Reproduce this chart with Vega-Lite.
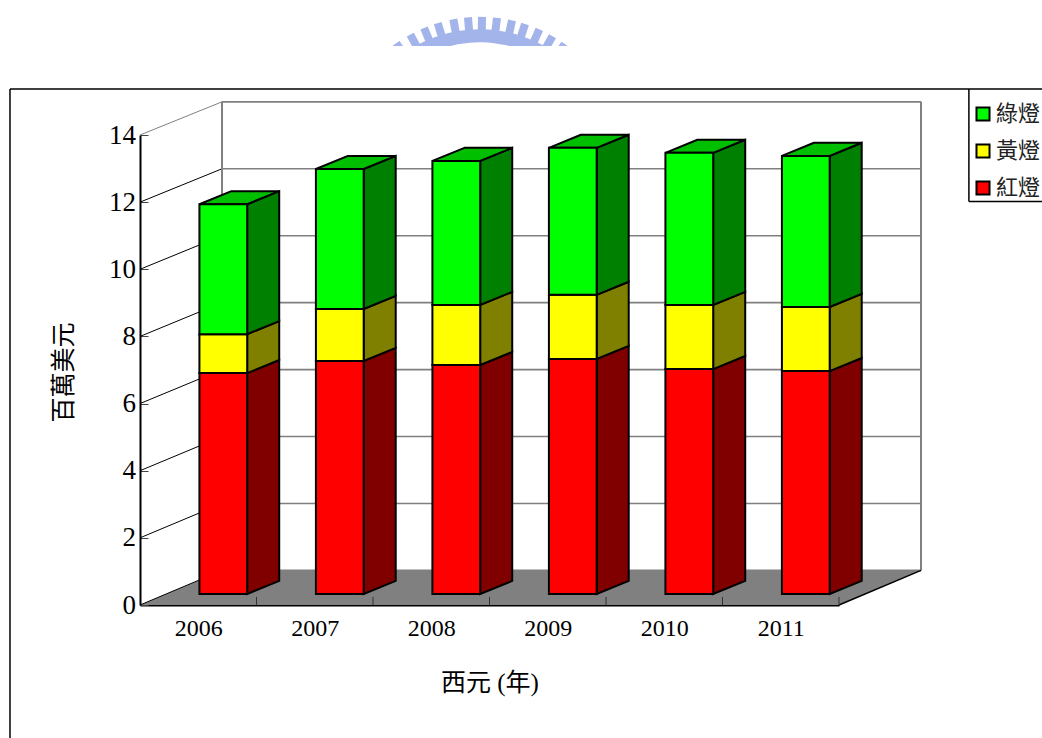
{
  "$schema": "https://vega.github.io/schema/vega-lite/v6.json",
  "description": "Stacked signal-light durations per year, drawn in an oblique box projection.",
  "width": 699,
  "height": 470,
  "padding": {"left": 140, "top": 135, "right": 203, "bottom": 133},
  "autosize": "none",
  "background": "white",
  "config": {
    "view": {"stroke": null},
    "font": "Liberation Serif, Noto Sans CJK TC"
  },
  "datasets": {
    "lights": [
      {"year": 2006, "light": "紅燈", "value": 6.58},
      {"year": 2006, "light": "黃燈", "value": 1.16},
      {"year": 2006, "light": "綠燈", "value": 3.87},
      {"year": 2007, "light": "紅燈", "value": 6.94},
      {"year": 2007, "light": "黃燈", "value": 1.55},
      {"year": 2007, "light": "綠燈", "value": 4.17},
      {"year": 2008, "light": "紅燈", "value": 6.82},
      {"year": 2008, "light": "黃燈", "value": 1.79},
      {"year": 2008, "light": "綠燈", "value": 4.29},
      {"year": 2009, "light": "紅燈", "value": 7.0},
      {"year": 2009, "light": "黃燈", "value": 1.91},
      {"year": 2009, "light": "綠燈", "value": 4.38},
      {"year": 2010, "light": "紅燈", "value": 6.7},
      {"year": 2010, "light": "黃燈", "value": 1.91},
      {"year": 2010, "light": "綠燈", "value": 4.53},
      {"year": 2011, "light": "紅燈", "value": 6.64},
      {"year": 2011, "light": "黃燈", "value": 1.91},
      {"year": 2011, "light": "綠燈", "value": 4.5}
    ],
    "levels": [
      {"tick": 0}, {"tick": 2}, {"tick": 4}, {"tick": 6},
      {"tick": 8}, {"tick": 10}, {"tick": 12}, {"tick": 14}
    ],
    "slots": [{"slot": 1}, {"slot": 2}, {"slot": 3}, {"slot": 4}, {"slot": 5}, {"slot": 6}],
    "emblem": [
      {"deg": -35}, {"deg": -28.5}, {"deg": -22.5}, {"deg": -16.8}, {"deg": -10.5}, {"deg": -4.7},
      {"deg": 0.8}, {"deg": 6.7}, {"deg": 12.7}, {"deg": 18}, {"deg": 24}, {"deg": 29.8}, {"deg": 35.5}
    ],
    "outlines": [
      {"part": "frame", "x": -1.116, "xEnd": -1.116, "y": 15.37, "yEnd": -4},
      {"part": "frame", "x": -1.116, "xEnd": 9, "y": 15.37, "yEnd": 15.37},
      {"part": "legend", "x": 7.115, "xEnd": 7.115, "y": 15.37, "yEnd": 12.02},
      {"part": "legend", "x": 7.115, "xEnd": 9, "y": 12.02, "yEnd": 12.02}
    ],
    "cropBox": [{"x": 1.9, "xEnd": 4.0, "y": 16.65, "yEnd": 15.42}]
  },
  "encoding": {
    "x": {
      "field": "x",
      "type": "quantitative",
      "scale": {"domain": [0, 6], "nice": false, "zero": false},
      "axis": {
        "values": [0.5, 1.5, 2.5, 3.5, 4.5, 5.5],
        "labelExpr": "'' + (datum.value + 2005.5)",
        "title": "西元 (年)",
        "grid": false,
        "ticks": false,
        "domainColor": "black",
        "domainWidth": 2,
        "labelColor": "black",
        "labelFont": "Liberation Serif",
        "labelFontSize": 24,
        "labelPadding": 11,
        "titleColor": "black",
        "titleFont": "Liberation Serif, Noto Sans CJK TC",
        "titleFontSize": 25,
        "titleFontWeight": "normal",
        "titlePadding": 30
      }
    },
    "y": {
      "field": "y",
      "type": "quantitative",
      "stack": null,
      "scale": {"domain": [0, 14], "nice": false, "zero": false},
      "axis": {
        "values": [0, 2, 4, 6, 8, 10, 12, 14],
        "title": "百萬美元",
        "grid": false,
        "tickSize": -8,
        "tickColor": "#444444",
        "tickWidth": 1,
        "domainColor": "black",
        "domainWidth": 2,
        "labelColor": "black",
        "labelFont": "Liberation Serif",
        "labelFontSize": 27,
        "labelPadding": 12.5,
        "titleColor": "black",
        "titleFont": "Noto Sans CJK TC",
        "titleFontSize": 25,
        "titleFontWeight": "normal",
        "titleX": -64,
        "titleY": 237
      }
    }
  },
  "layer": [
    {
      "name": "emblem-teeth",
      "data": {"name": "emblem"},
      "transform": [
        {"calculate": "2.918 + 146 * sin(datum.deg * PI / 180) / 116.5", "as": "x"},
        {"calculate": "13.17 + 146 * cos(datum.deg * PI / 180) / 33.57", "as": "y"},
        {"calculate": "2.918 + 124 * sin(datum.deg * PI / 180) / 116.5", "as": "xIn"},
        {"calculate": "13.17 + 124 * cos(datum.deg * PI / 180) / 33.57", "as": "yIn"}
      ],
      "mark": {"type": "rule", "color": "#a3b4ea", "strokeWidth": 8},
      "encoding": {
        "x2": {"field": "xIn"},
        "y2": {"field": "yIn"}
      }
    },
    {
      "name": "emblem-band",
      "data": {"name": "emblem"},
      "transform": [
        {"calculate": "2.918 + 127 * sin(datum.deg * PI / 180) / 116.5", "as": "x"},
        {"calculate": "13.17 + 127 * cos(datum.deg * PI / 180) / 33.57", "as": "y"}
      ],
      "mark": {"type": "line", "color": "#a3b4ea", "strokeWidth": 13, "interpolate": "cardinal"},
      "encoding": {"order": {"field": "deg"}}
    },
    {
      "name": "emblem-crop",
      "data": {"name": "cropBox"},
      "mark": {"type": "rect", "color": "white"},
      "encoding": {
        "x2": {"field": "xEnd"},
        "y2": {"field": "yEnd"}
      }
    },
    {
      "name": "frame-and-legend-box",
      "data": {"name": "outlines"},
      "mark": {"type": "rule", "color": "black", "strokeWidth": 1.5},
      "encoding": {
        "x2": {"field": "xEnd"},
        "y2": {"field": "yEnd"}
      }
    },
    {
      "name": "floor",
      "data": {"values": [{"depth": 0}, {"depth": 1}]},
      "transform": [
        {"calculate": "0.704 * datum.depth", "as": "x"},
        {"calculate": "6 + 0.704 * datum.depth", "as": "xEnd"},
        {"calculate": "1.03 * datum.depth", "as": "y"}
      ],
      "mark": {"type": "area", "orient": "horizontal", "color": "#808080"},
      "encoding": {"x2": {"field": "xEnd"}}
    },
    {
      "name": "back-wall-levels",
      "data": {"name": "levels"},
      "transform": [
        {"calculate": "0.704", "as": "x"},
        {"calculate": "6.704", "as": "xEnd"},
        {"calculate": "0.997 * datum.tick + 1.03", "as": "y"}
      ],
      "mark": {"type": "rule", "color": "#808080", "strokeWidth": 1.6},
      "encoding": {"x2": {"field": "xEnd"}}
    },
    {
      "name": "side-wall-levels",
      "data": {"name": "levels"},
      "transform": [
        {"calculate": "0", "as": "x"},
        {"calculate": "0.704", "as": "xEnd"},
        {"calculate": "datum.tick", "as": "y"},
        {"calculate": "0.997 * datum.tick + 1.03", "as": "yEnd"}
      ],
      "mark": {"type": "rule", "strokeWidth": 1},
      "encoding": {
        "x2": {"field": "xEnd"},
        "y2": {"field": "yEnd"},
        "color": {"condition": {"test": "datum.tick === 14", "value": "#808080"}, "value": "black"},
        "strokeWidth": {"condition": {"test": "datum.tick === 14", "value": 2}, "value": 1}
      }
    },
    {
      "name": "wall-uprights",
      "data": {"values": [{"x": 0.704}, {"x": 6.704}]},
      "transform": [
        {"calculate": "1.03", "as": "y"},
        {"calculate": "14.988", "as": "yEnd"}
      ],
      "mark": {"type": "rule", "color": "#808080", "strokeWidth": 2},
      "encoding": {"y2": {"field": "yEnd"}}
    },
    {
      "name": "floor-edge",
      "data": {"values": [{"x": 6}]},
      "transform": [
        {"calculate": "0", "as": "y"},
        {"calculate": "6.704", "as": "xEnd"},
        {"calculate": "1.03", "as": "yEnd"}
      ],
      "mark": {"type": "rule", "color": "black", "strokeWidth": 1.5},
      "encoding": {"x2": {"field": "xEnd"}, "y2": {"field": "yEnd"}}
    },
    {
      "name": "category-ticks",
      "data": {"name": "slots"},
      "transform": [
        {"calculate": "datum.slot", "as": "x"},
        {"calculate": "0", "as": "y"},
        {"calculate": "0.24", "as": "yEnd"}
      ],
      "mark": {"type": "rule", "color": "#333333", "strokeWidth": 1},
      "encoding": {"y2": {"field": "yEnd"}}
    },
    {
      "name": "bar-sides",
      "data": {"name": "lights"},
      "transform": [
        {"stack": "value", "groupby": ["year"], "as": ["low", "high"]},
        {"calculate": "[0, 1]", "as": "corner"},
        {"flatten": ["corner"]},
        {"calculate": "datum.year - 2006 + 0.92 + 0.275 * datum.corner", "as": "x"},
        {"calculate": "datum.high + 0.328 + 0.39 * datum.corner", "as": "y"},
        {"calculate": "datum.low + 0.328 + 0.39 * datum.corner", "as": "yLow"}
      ],
      "mark": {"type": "area", "orient": "vertical", "stroke": "black", "strokeWidth": 2},
      "encoding": {
        "y2": {"field": "yLow"},
        "detail": [{"field": "year"}, {"field": "light"}],
        "color": {
          "field": "light",
          "type": "nominal",
          "scale": {"domain": ["綠燈", "黃燈", "紅燈"], "range": ["#008000", "#808000", "#800000"]},
          "legend": null
        }
      }
    },
    {
      "name": "bar-tops",
      "data": {"name": "lights"},
      "transform": [
        {"stack": "value", "groupby": ["year"], "as": ["low", "high"]},
        {"filter": "datum.light === '綠燈'"},
        {"calculate": "[0, 1]", "as": "corner"},
        {"flatten": ["corner"]},
        {"calculate": "datum.year - 2006 + 0.51 + 0.275 * datum.corner", "as": "x"},
        {"calculate": "datum.year - 2006 + 0.92 + 0.275 * datum.corner", "as": "xEnd"},
        {"calculate": "datum.high + 0.328 + 0.39 * datum.corner", "as": "y"}
      ],
      "mark": {"type": "area", "orient": "horizontal", "color": "#00bf00", "stroke": "black", "strokeWidth": 2},
      "encoding": {
        "x2": {"field": "xEnd"},
        "detail": {"field": "year"}
      }
    },
    {
      "name": "bar-fronts",
      "data": {"name": "lights"},
      "transform": [
        {"stack": "value", "groupby": ["year"], "as": ["low", "high"]},
        {"calculate": "datum.year - 2006 + 0.51", "as": "x"},
        {"calculate": "datum.year - 2006 + 0.92", "as": "xEnd"},
        {"calculate": "datum.high + 0.328", "as": "y"},
        {"calculate": "datum.low + 0.328", "as": "yLow"}
      ],
      "mark": {"type": "rect", "stroke": "black", "strokeWidth": 2},
      "encoding": {
        "x2": {"field": "xEnd"},
        "y2": {"field": "yLow"},
        "color": {
          "field": "light",
          "type": "nominal",
          "scale": {"domain": ["綠燈", "黃燈", "紅燈"], "range": ["#00ff00", "#ffff00", "#ff0000"]},
          "legend": {
            "title": null,
            "orient": "none",
            "legendX": 832,
            "legendY": -32,
            "padding": 0,
            "symbolType": "square",
            "symbolSize": 170,
            "symbolStrokeColor": "black",
            "symbolStrokeWidth": 2,
            "symbolOpacity": 1,
            "labelFont": "Noto Sans CJK TC",
            "labelFontSize": 22,
            "labelColor": "#222222",
            "labelOffset": 2,
            "rowPadding": 15,
            "labelLimit": 90
          }
        }
      }
    }
  ],
  "resolve": {"scale": {"color": "independent"}}
}
